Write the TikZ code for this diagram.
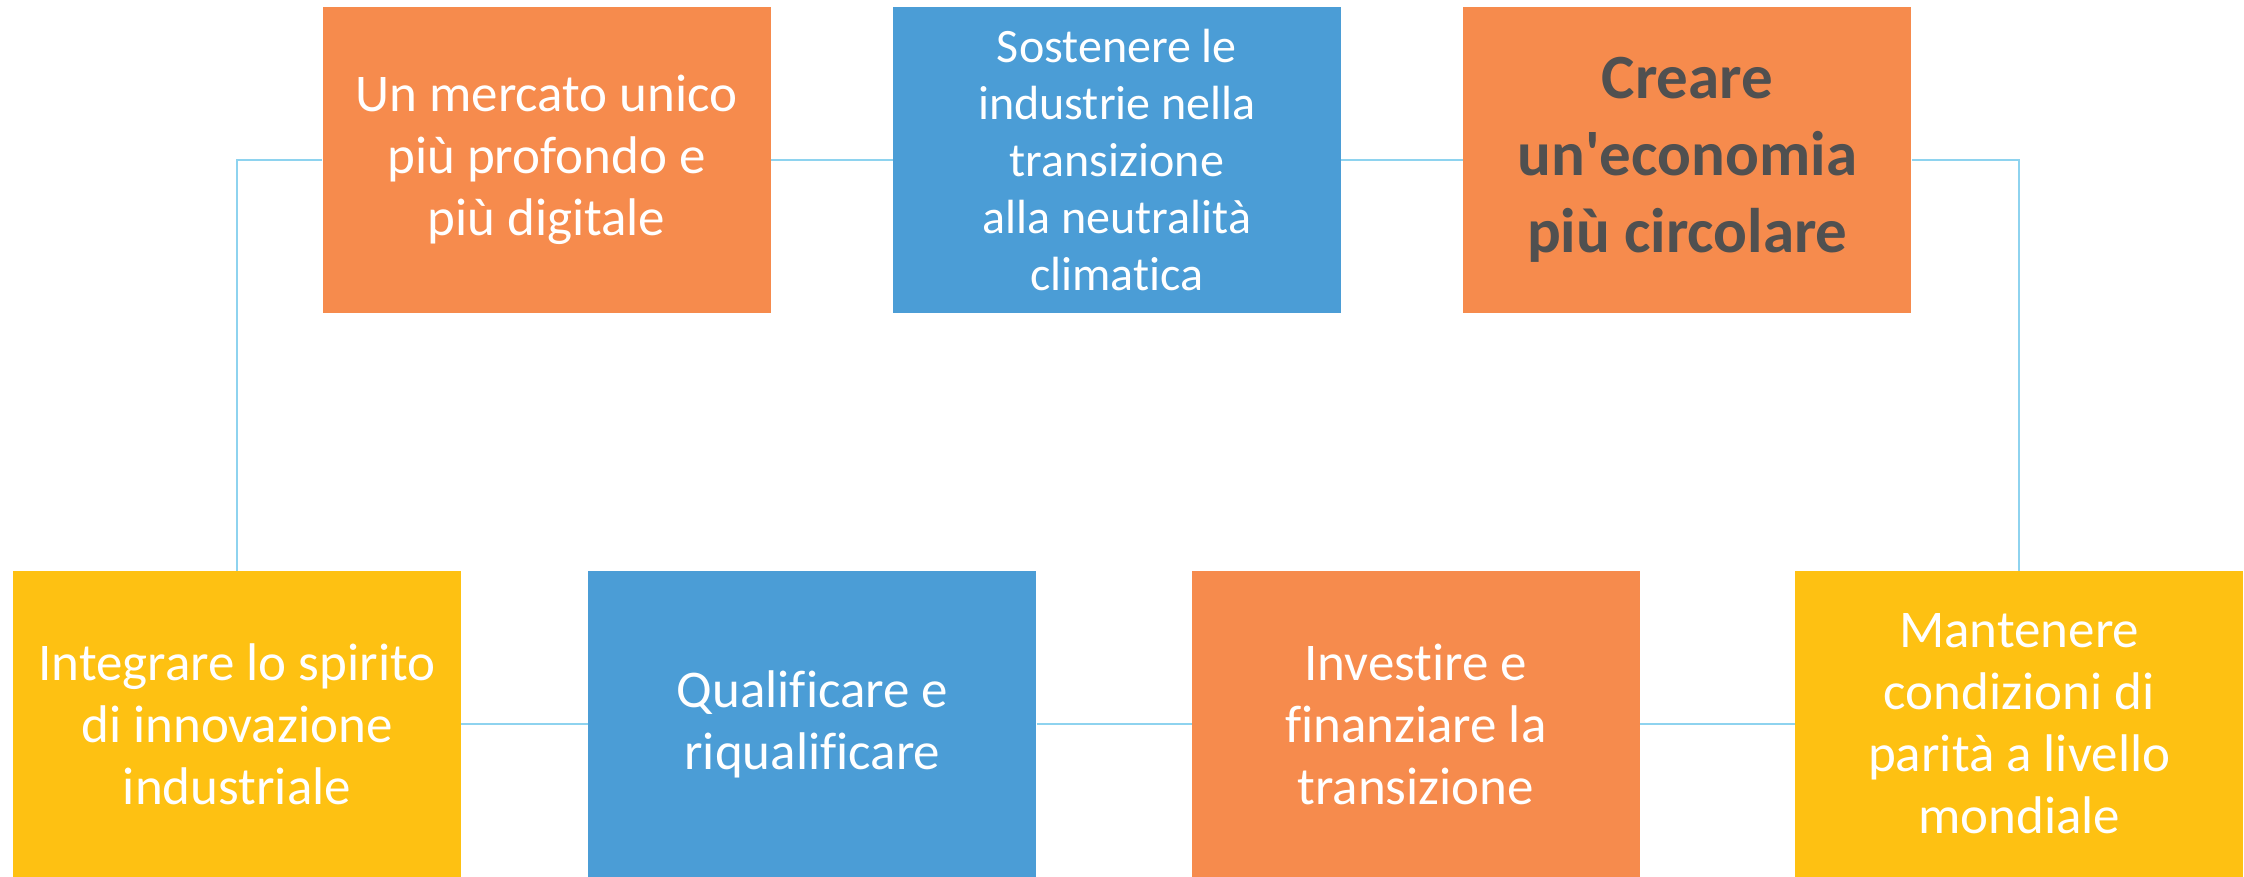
\documentclass[tikz,border=0pt]{standalone}
\usepackage{fontspec}
\setmainfont{Carlito}[Ligatures={NoCommon}]
\usetikzlibrary{positioning}
\definecolor{goalorange}{HTML}{F68B4D}
\definecolor{goalblue}{HTML}{4B9DD6}
\definecolor{goalyellow}{HTML}{FEC112}
\definecolor{linkblue}{HTML}{8ED3EF}
\definecolor{darktext}{HTML}{505050}
\tikzset{
    goal/.style={rectangle, minimum width=448pt, minimum height=306pt, inner sep=0pt, align=center, text=white, font=\fontsize{53}{62}\selectfont},
    orangegoal/.style={goal, fill=goalorange},
    bluegoal/.style={goal, fill=goalblue},
    yellowgoal/.style={goal, fill=goalyellow},
    link/.style={draw=linkblue, line width=2pt}
}

\begin{document}
\begin{tikzpicture}[x=1pt, y=-1pt, node distance=122pt]
    \useasboundingbox (0,0) rectangle (2244,877);

    % top row
    \node (market) [orangegoal] at (546.5,160) {Un mercato unico\\più profondo e\\più digitale};
    \node (neutral) [bluegoal, right=of market, font=\fontsize{48}{57}\selectfont] {Sostenere le\\industrie nella\\transizione\\alla neutralità\\climatica};
    \node (circular) [orangegoal, right=of neutral, text=darktext, font=\fontsize{63}{77}\selectfont\bfseries] {Creare\\un\textquotesingle economia\\più circolare};

    % bottom row
    \node (innovation) [yellowgoal] at (237,724) {Integrare lo spirito\\di innovazione\\industriale};
    \node (skills) [bluegoal, right=127pt of innovation] {Qualificare e\\riqualificare};
    \node (invest) [orangegoal, right=155pt of skills] {Investire e\\finanziare la\\transizione};
    \node (parity) [yellowgoal, right=155pt of invest] {Mantenere\\condizioni di\\parità a livello\\mondiale};

    \draw [link] (market.west) -| (innovation.north);
    \draw [link] (market) -- (neutral);
    \draw [link] (neutral) -- (circular);
    \draw [link] (circular.east) -| (parity.north);
    \draw [link] (innovation) -- (skills);
    \draw [link] (skills) -- (invest);
    \draw [link] (invest) -- (parity);
\end{tikzpicture}
\end{document}
